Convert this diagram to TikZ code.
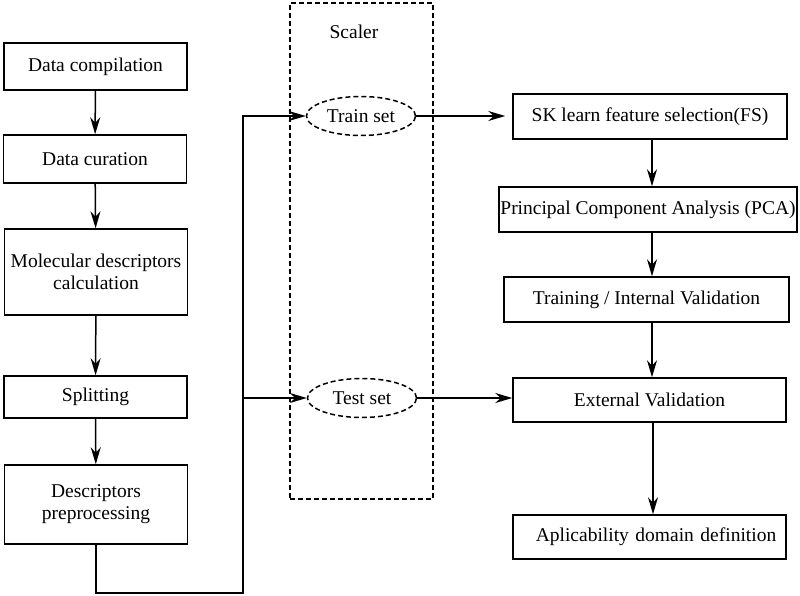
\documentclass[tikz,border=0pt]{standalone}
\usepackage{fontspec}
\setmainfont{Liberation Serif}
\usetikzlibrary{positioning}
\usetikzlibrary{shapes.geometric}
\usetikzlibrary{arrows.meta}
\tikzset{stage/.style={draw, inner sep=0pt, align=center, font=\fontsize{19.5}{22}\selectfont}}
\tikzset{subset/.style={ellipse, draw, dash pattern=on 5pt off 3pt, inner sep=0pt, minimum width=109pt, minimum height=39pt, font=\fontsize{19.5}{22}\selectfont}}
\tikzset{>={Stealth[length=17pt,width=10pt]}}

\begin{document}
\begin{tikzpicture}[x=1pt, y=-1pt, line width=1.5pt]
        \useasboundingbox (0,0) rectangle (800,596);
        % left column
        \node[stage, minimum width=183pt, minimum height=47pt] (comp) at (95.5,66.5) {Data compilation};
        \node[stage, minimum width=183pt, minimum height=48pt] (cur) at (95,159) {Data curation};
        \node[stage, minimum width=183pt, minimum height=86pt] (mol) at (96,272) {Molecular descriptors\\calculation};
        \node[stage, minimum width=183pt, minimum height=42pt] (split) at (95.5,397) {Splitting};
        \node[stage, minimum width=183pt, minimum height=79pt] (prep) at (96,504.5) {Descriptors\\preprocessing};

        % scaler
        \node[draw, dash pattern=on 5pt off 3pt, minimum width=143pt, minimum height=496pt, inner sep=0pt] (scal) at (361.5,251) {};
        \node[font=\fontsize{19.5}{22}\selectfont] (scaltxt) at (354,32) {Scaler};
        \node[subset] (train) at (361,116) {Train set};
        \node[subset] (test) at (362,398) {Test set};

        % right column
        \node[stage, minimum width=274pt, minimum height=45pt] (fs) at (650,116.5) {SK learn feature selection(FS)};
        \node[stage, minimum width=298pt, minimum height=45pt] (pca) at (648,209.5) {Principal Component Analysis (PCA)};
        \node[stage, minimum width=285pt, minimum height=45pt] (val) at (646.5,299.5) {Training / Internal Validation};
        \node[stage, minimum width=273pt, minimum height=44pt] (ext) at (649.5,400) {External Validation};
        \node[stage, minimum width=273pt, minimum height=44pt, text width=273pt] (ad) at (649.5,537) {\hspace*{13pt}Aplicability domain definition};

        \coordinate (c1) at (243,398);
        \draw[->] (comp) -- (cur);
        \draw[->] (cur) -- (mol);
        \draw[->] (mol) -- (split);
        \draw[->] (split) -- (prep);
        \draw[->] (prep.south) -- ++(0,48) -| (c1) |- (train.west);
        \draw[->] (c1) -- (test.west);
        \draw[->, shorten >=7pt] (train.east) -- (fs.west |- train.east);
        \draw[->] (test.east) -- (ext.west |- test.east);
        \draw[->] (fs.south -| 652,0) -- (pca.north -| 652,0);
        \draw[->] (pca.south -| 652,0) -- (val.north -| 652,0);
        \draw[->] (val.south -| 652,0) -- (ext.north -| 652,0);
        \draw[->] (ext.south -| 653,0) -- (ad.north -| 653,0);
\end{tikzpicture}
\end{document}
